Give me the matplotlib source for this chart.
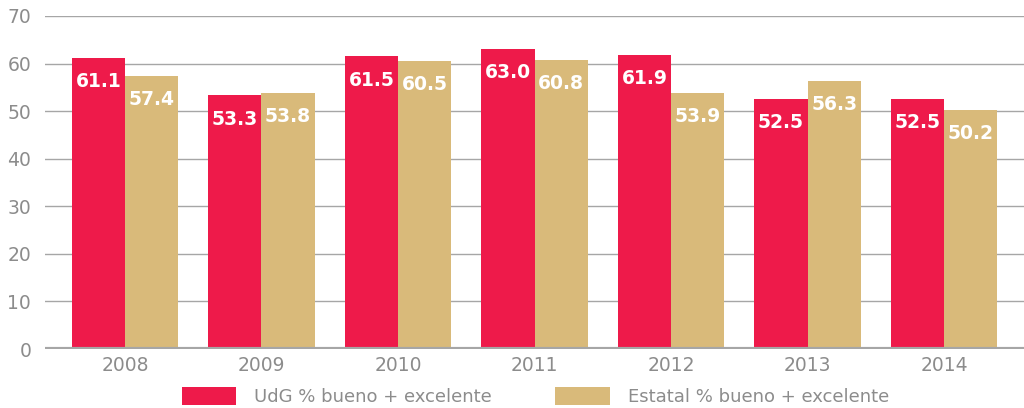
import numpy as np
import matplotlib
matplotlib.use("Agg")
import matplotlib.pyplot as plt

years = ["2008", "2009", "2010", "2011", "2012", "2013", "2014"]
udg = [61.1, 53.3, 61.5, 63.0, 61.9, 52.5, 52.5]
estatal = [57.4, 53.8, 60.5, 60.8, 53.9, 56.3, 50.2]
series_names = ["UdG % bueno + excelente", "Estatal % bueno + excelente"]

red = "#EE1A4A"
gold = "#D9BA7A"
grey_text = "#8C8C8C"
grid_col = "#A6A6A6"

plt.rcParams["font.family"] = ["DejaVu Sans"]

fig = plt.figure(figsize=(10.24, 4.08), dpi=100)
ax = fig.add_axes([0.044, 0.1446, 0.956, 0.8162])

x = np.arange(len(years))
w = 0.39
b1 = ax.bar(x - w / 2, udg, w, color=red, label=series_names[0], zorder=3)
b2 = ax.bar(x + w / 2, estatal, w, color=gold, label=series_names[1], zorder=3)

# value labels inside the top of each bar
for bars, vals in ((b1, udg), (b2, estatal)):
    for bar, v in zip(bars, vals):
        ax.annotate(f"{v:.1f}", (bar.get_x() + bar.get_width() / 2, bar.get_height()),
                    xytext=(0, -17), textcoords="offset points",
                    ha="center", va="center", color="white",
                    fontsize=13.5, fontweight="bold", zorder=4)

ax.set_ylim(0, 70)
ax.set_xlim(-0.585, len(years) - 1 + 0.585)
ax.set_yticks(range(0, 71, 10))
ax.set_xticks(x)
ax.set_xticklabels(years)
ax.yaxis.grid(True, color=grid_col, linewidth=1, zorder=0)
ax.axhline(0, color=grid_col, linewidth=3, zorder=5)
for s in ax.spines.values():
    s.set_visible(False)
ax.tick_params(axis="both", length=0, colors=grey_text, labelsize=13.5)
ax.tick_params(axis="y", pad=10)
ax.tick_params(axis="x", pad=5)

fig.legend(loc="lower center", bbox_to_anchor=(0.523, -0.035), ncol=2, frameon=False,
           fontsize=13, labelcolor=grey_text, handlelength=3.0, handleheight=1.1,
           columnspacing=3.5, handletextpad=1.0)

fig.savefig("out.png", dpi=100)
